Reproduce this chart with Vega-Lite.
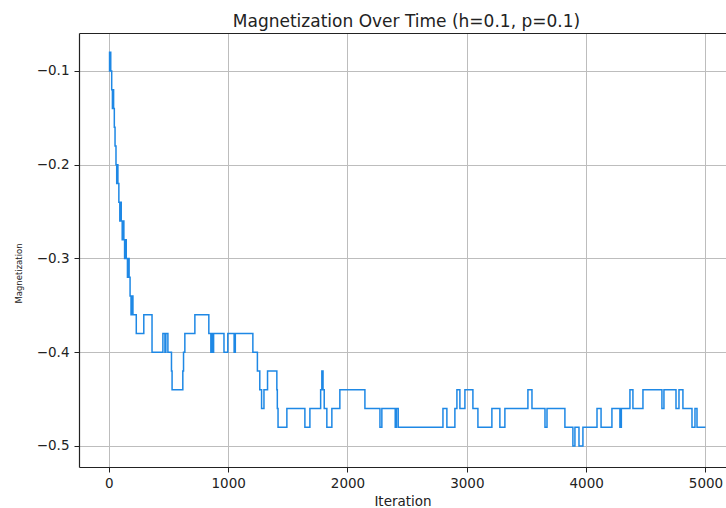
{
  "$schema": "https://vega.github.io/schema/vega-lite/v6.json",
  "autosize": "none",
  "width": 647,
  "height": 434,
  "padding": {"left": 79, "top": 33, "right": 0, "bottom": 41},
  "background": "white",
  "title": {
    "text": "Magnetization Over Time (h=0.1, p=0.1)",
    "font": "DejaVu Sans",
    "fontSize": 17,
    "fontWeight": "normal",
    "color": "#222222",
    "anchor": "middle",
    "baseline": "bottom",
    "dx": 4,
    "dy": 20,
    "offset": 5
  },
  "config": {
    "view": {"stroke": null},
    "font": "DejaVu Sans",
    "axis": {
      "domainColor": "#222222",
      "domainWidth": 1.2,
      "tickColor": "#222222",
      "tickWidth": 1,
      "tickSize": 5,
      "labelFont": "DejaVu Sans",
      "labelFontSize": 13.5,
      "labelColor": "#222222",
      "titleFont": "DejaVu Sans",
      "titleFontWeight": "normal",
      "titleColor": "#222222",
      "gridColor": "#bdbdbd",
      "gridWidth": 1
    }
  },
  "data": {
    "values": [
      {"iteration": 0, "magnetization": -0.08},
      {"iteration": 6, "magnetization": -0.10},
      {"iteration": 10, "magnetization": -0.08},
      {"iteration": 16, "magnetization": -0.10},
      {"iteration": 24, "magnetization": -0.12},
      {"iteration": 30, "magnetization": -0.14},
      {"iteration": 36, "magnetization": -0.12},
      {"iteration": 40, "magnetization": -0.14},
      {"iteration": 46, "magnetization": -0.16},
      {"iteration": 52, "magnetization": -0.18},
      {"iteration": 60, "magnetization": -0.20},
      {"iteration": 66, "magnetization": -0.22},
      {"iteration": 70, "magnetization": -0.20},
      {"iteration": 76, "magnetization": -0.22},
      {"iteration": 84, "magnetization": -0.24},
      {"iteration": 92, "magnetization": -0.26},
      {"iteration": 98, "magnetization": -0.24},
      {"iteration": 104, "magnetization": -0.26},
      {"iteration": 112, "magnetization": -0.28},
      {"iteration": 120, "magnetization": -0.26},
      {"iteration": 126, "magnetization": -0.28},
      {"iteration": 132, "magnetization": -0.30},
      {"iteration": 140, "magnetization": -0.28},
      {"iteration": 146, "magnetization": -0.30},
      {"iteration": 156, "magnetization": -0.32},
      {"iteration": 164, "magnetization": -0.30},
      {"iteration": 170, "magnetization": -0.32},
      {"iteration": 178, "magnetization": -0.34},
      {"iteration": 186, "magnetization": -0.36},
      {"iteration": 196, "magnetization": -0.34},
      {"iteration": 202, "magnetization": -0.36},
      {"iteration": 230, "magnetization": -0.38},
      {"iteration": 293, "magnetization": -0.36},
      {"iteration": 362, "magnetization": -0.40},
      {"iteration": 453, "magnetization": -0.38},
      {"iteration": 470, "magnetization": -0.40},
      {"iteration": 478, "magnetization": -0.38},
      {"iteration": 495, "magnetization": -0.40},
      {"iteration": 525, "magnetization": -0.42},
      {"iteration": 530, "magnetization": -0.44},
      {"iteration": 620, "magnetization": -0.42},
      {"iteration": 626, "magnetization": -0.40},
      {"iteration": 637, "magnetization": -0.38},
      {"iteration": 721, "magnetization": -0.36},
      {"iteration": 838, "magnetization": -0.38},
      {"iteration": 855, "magnetization": -0.40},
      {"iteration": 862, "magnetization": -0.38},
      {"iteration": 870, "magnetization": -0.40},
      {"iteration": 878, "magnetization": -0.38},
      {"iteration": 965, "magnetization": -0.40},
      {"iteration": 997, "magnetization": -0.38},
      {"iteration": 1050, "magnetization": -0.40},
      {"iteration": 1060, "magnetization": -0.38},
      {"iteration": 1207, "magnetization": -0.40},
      {"iteration": 1245, "magnetization": -0.42},
      {"iteration": 1265, "magnetization": -0.44},
      {"iteration": 1280, "magnetization": -0.46},
      {"iteration": 1300, "magnetization": -0.44},
      {"iteration": 1330, "magnetization": -0.42},
      {"iteration": 1408, "magnetization": -0.44},
      {"iteration": 1412, "magnetization": -0.46},
      {"iteration": 1418, "magnetization": -0.48},
      {"iteration": 1492, "magnetization": -0.46},
      {"iteration": 1643, "magnetization": -0.48},
      {"iteration": 1685, "magnetization": -0.46},
      {"iteration": 1775, "magnetization": -0.44},
      {"iteration": 1785, "magnetization": -0.42},
      {"iteration": 1795, "magnetization": -0.44},
      {"iteration": 1805, "magnetization": -0.46},
      {"iteration": 1827, "magnetization": -0.48},
      {"iteration": 1869, "magnetization": -0.46},
      {"iteration": 1936, "magnetization": -0.44},
      {"iteration": 2146, "magnetization": -0.46},
      {"iteration": 2272, "magnetization": -0.48},
      {"iteration": 2288, "magnetization": -0.46},
      {"iteration": 2400, "magnetization": -0.48},
      {"iteration": 2410, "magnetization": -0.46},
      {"iteration": 2425, "magnetization": -0.48},
      {"iteration": 2800, "magnetization": -0.46},
      {"iteration": 2833, "magnetization": -0.48},
      {"iteration": 2900, "magnetization": -0.46},
      {"iteration": 2917, "magnetization": -0.44},
      {"iteration": 2942, "magnetization": -0.46},
      {"iteration": 2984, "magnetization": -0.44},
      {"iteration": 3051, "magnetization": -0.46},
      {"iteration": 3093, "magnetization": -0.48},
      {"iteration": 3210, "magnetization": -0.46},
      {"iteration": 3277, "magnetization": -0.48},
      {"iteration": 3319, "magnetization": -0.46},
      {"iteration": 3512, "magnetization": -0.44},
      {"iteration": 3546, "magnetization": -0.46},
      {"iteration": 3655, "magnetization": -0.48},
      {"iteration": 3672, "magnetization": -0.46},
      {"iteration": 3822, "magnetization": -0.48},
      {"iteration": 3889, "magnetization": -0.50},
      {"iteration": 3906, "magnetization": -0.48},
      {"iteration": 3940, "magnetization": -0.50},
      {"iteration": 3973, "magnetization": -0.48},
      {"iteration": 4091, "magnetization": -0.46},
      {"iteration": 4125, "magnetization": -0.48},
      {"iteration": 4216, "magnetization": -0.46},
      {"iteration": 4283, "magnetization": -0.48},
      {"iteration": 4295, "magnetization": -0.46},
      {"iteration": 4367, "magnetization": -0.44},
      {"iteration": 4392, "magnetization": -0.46},
      {"iteration": 4476, "magnetization": -0.44},
      {"iteration": 4635, "magnetization": -0.46},
      {"iteration": 4652, "magnetization": -0.44},
      {"iteration": 4753, "magnetization": -0.46},
      {"iteration": 4778, "magnetization": -0.44},
      {"iteration": 4811, "magnetization": -0.46},
      {"iteration": 4887, "magnetization": -0.48},
      {"iteration": 4912, "magnetization": -0.46},
      {"iteration": 4929, "magnetization": -0.48},
      {"iteration": 5000, "magnetization": -0.48}
    ]
  },
  "layer": [
    {
      "mark": {"type": "line", "interpolate": "step-after", "color": "#1e88e5", "strokeWidth": 1.5},
      "encoding": {
        "x": {
          "field": "iteration",
          "type": "quantitative",
          "scale": {"domain": [-250, 5172], "nice": false, "zero": false},
          "axis": {
            "orient": "bottom",
            "values": [0, 1000, 2000, 3000, 4000, 5000],
            "format": "d",
            "grid": true,
            "labelPadding": 4,
            "title": "Iteration",
            "titleFontSize": 13.5,
            "titlePadding": 5
          }
        },
        "y": {
          "field": "magnetization",
          "type": "quantitative",
          "scale": {"domain": [-0.5224, -0.0595], "nice": false, "zero": false},
          "axis": {
            "orient": "left",
            "values": [-0.5, -0.4, -0.3, -0.2, -0.1],
            "format": ".1f",
            "grid": true,
            "labelPadding": 5,
            "title": "Magnetization",
            "titleFontSize": 8.5,
            "titleX": -61,
            "titleY": 240,
            "titleAngle": -90,
            "titleAlign": "center",
            "titleBaseline": "middle"
          }
        }
      }
    },
    {
      "mark": {"type": "rule", "opacity": 0},
      "encoding": {
        "x": {
          "field": "iteration",
          "type": "quantitative",
          "scale": {"domain": [-250, 5172], "nice": false, "zero": false},
          "axis": {
            "orient": "top",
            "labels": false,
            "ticks": false,
            "grid": false,
            "title": null
          }
        }
      }
    }
  ],
  "resolve": {"axis": {"x": "independent"}}
}
